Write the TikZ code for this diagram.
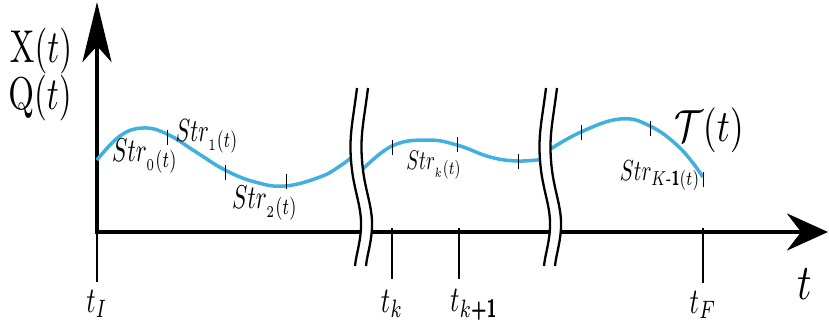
\documentclass[tikz,border=0pt]{standalone}
\usepackage{amsmath}
\usepackage{graphicx}
\usetikzlibrary{arrows.meta}

\definecolor{trajblue}{RGB}{64,176,223}
\newcommand{\tallm}[3]{\scalebox{#1}[#2]{$#3$}}
\newcommand{\bsf}[1]{\text{\sffamily\bfseries #1}}
\newcommand{\brkpath}{(357,88) .. controls (353,120) and (349,135) .. (351,160)
  .. controls (353,190) and (362,205) .. (361,228)
  .. controls (360,245) and (356,255) .. (355,266)}
\newcommand{\breakmark}[1]{%
  \draw[white, line width=10pt, xshift=#1pt+5.5pt] \brkpath;
  \draw[brk, xshift=#1pt] \brkpath;
  \draw[brk, xshift=#1pt+11pt] \brkpath;}

\begin{document}
\begin{tikzpicture}[
  x=1pt, y=-1pt,
  axis/.style={line width=4pt},
  traj/.style={draw=trajblue, line width=3.5pt},
  curvetick/.style={line width=0.7pt},
  timetick/.style={line width=2.2pt},
  brk/.style={line width=2.3pt},
  lbl/.style={inner sep=0pt}
]
\useasboundingbox (0,0) rectangle (829,327);

% axes
\coordinate (O) at (97,232);
\coordinate (ytip) at (97,2);
\coordinate (xtip) at (828,232);
\draw[axis, -{Stealth[length=60pt, width=29pt, inset=16pt]}] ([yshift=-2pt]O) -- (ytip);
\draw[axis, -{Stealth[length=41pt, width=37pt, inset=14pt]}] ([xshift=-2pt]O) -- (xtip);
\foreach \x/\b in {97/282, 392/279, 459/279, 703/283}
  \draw[timetick] (\x,228) -- (\x,\b);

% trajectory pieces
\draw[traj] plot[smooth, tension=0.7] coordinates {(97,160) (120,136) (143,128) (167,134)
  (196,152) (225,170) (255,182) (285,186) (320,177) (340,166) (357,153)};
\draw[traj] plot[smooth, tension=0.7] coordinates {(361,171) (392,146) (427,140) (457,145)
  (490,157) (518,161) (545,159)};
\draw[traj] plot[smooth, tension=0.7] coordinates {(549,150) (581,132) (620,119) (650,126)
  (680,148) (703,177)};
\foreach \x/\y in {167/130, 225/165, 286/174, 392/140, 457/137, 518/154, 581/125, 650/121, 703/172}
  \draw[curvetick] (\x,\y) -- (\x,\y+15);

% axis breaks
\breakmark{0}
\breakmark{189}

% labels
\node[lbl] (xq1) at (41,51) {\tallm{3.3}{4.6}{\mathrm{X}(t)}};
\node[lbl] (xq2) at (40,98) {\tallm{3.3}{4.6}{\mathrm{Q}(t)}};
\node[lbl] (traj) at (709,130) {\tallm{3.6}{4.5}{\mathcal{T}(t)}};
\node[lbl] (str0) at (145,156) {\tallm{2.3}{3.3}{Str_{_0(t)}}};
\node[lbl] (str1) at (207,136) {\tallm{2.2}{3.2}{Str_{_1(t)}}};
\node[lbl] (str2) at (265,203) {\tallm{2.3}{3.3}{Str_{_2(t)}}};
\node[lbl] (strk) at (434,165) {\tallm{1.9}{2.7}{Str_{_k(t)}}};
\node[lbl] (strK) at (660,176) {\tallm{2.1}{2.9}{Str_{K\bsf{-1}(t)}}};
\node[lbl] (tI) at (97,304) {\tallm{2.6}{3.6}{t_I}};
\node[lbl] (tk) at (392,304) {\tallm{2.6}{3.6}{t_k}};
\node[lbl] (tk1) at (474,305) {\tallm{2.6}{3.6}{t_{k\bsf{+1}}}};
\node[lbl] (tF) at (703,305) {\tallm{2.6}{3.6}{t_F}};
\node[lbl] (t) at (805,284) {\tallm{4}{5}{t}};
\end{tikzpicture}
\end{document}
